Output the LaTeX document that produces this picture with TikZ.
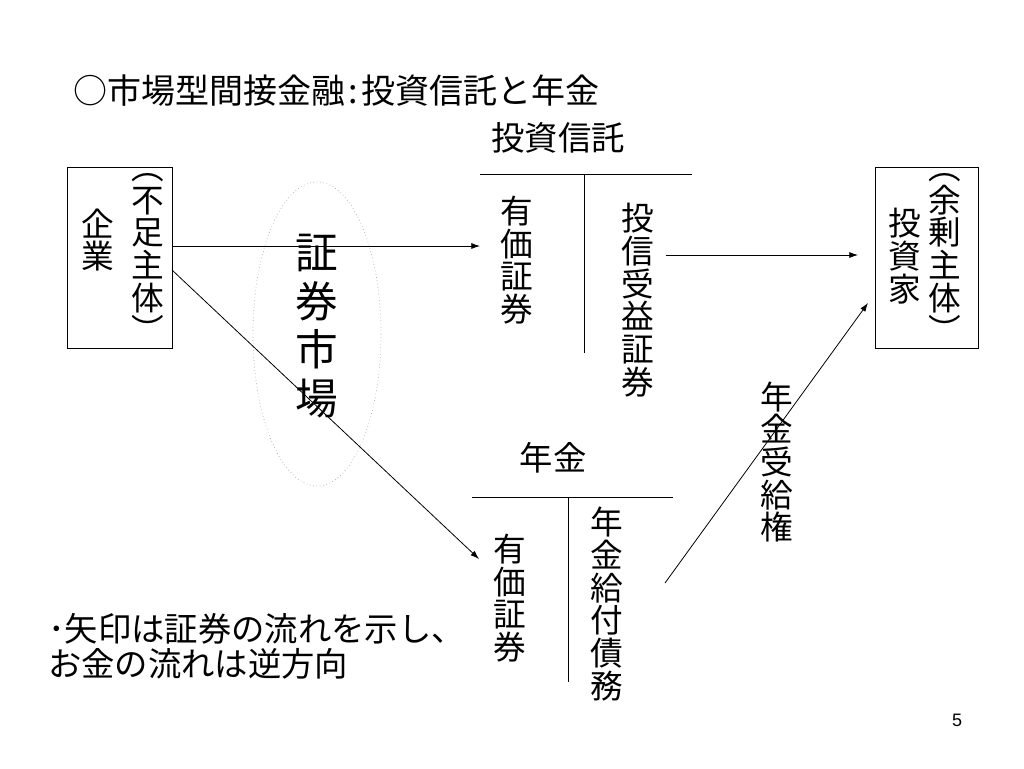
\documentclass[tikz,border=0pt]{standalone}
\usepackage{fontspec}
\setmainfont{Liberation Sans}
\newfontfamily\jp{Noto Sans CJK JP}
\usetikzlibrary{arrows.meta}
\tikzset{
  vtext/.style={align=center, inner sep=0pt, font=\jp\fontsize{24.5}{24.5}\selectfont},
  bigtext/.style={align=center, inner sep=0pt, font=\jp\fontsize{32}{36.5}\selectfont},
  htext/.style={inner sep=0pt, font=\jp\fontsize{25}{30}\selectfont},
  boxnode/.style={draw, line width=0.6pt, inner sep=0pt},
  arr/.style={-{Latex[length=6.5pt,width=4.5pt]}, line width=0.6pt},
  tline/.style={line width=0.6pt},
  mkt/.style={draw=gray!70, dotted, line width=0.5pt}
}
\begin{document}
\begin{tikzpicture}[x=0.75pt,y=-0.75pt]
\useasboundingbox (0,0) rectangle (1024,768);

% title
\node[htext, anchor=west, font=\jp\fontsize{25.5}{30}\selectfont] (title) at (73,91) {○市場型間接金融\kern0.1em:\kern0.1em 投資信託と年金};

% left box
\node[boxnode, minimum width=78.75pt, minimum height=135.75pt] (lbox) at (119.5,257.5) {};
\node[vtext] (fusoku) at (148,258) {︵\\不\\足\\主\\体\\︶};
\node[vtext] (kigyo) at (98,240) {企\\業};

% right box
\node[boxnode, minimum width=77.25pt, minimum height=135.75pt] (rbox) at (926.5,257.5) {};
\node[vtext] (yojo) at (945,258) {︵\\余\\剰\\主\\体\\︶};
\node[vtext] (toshika) at (905,256) {投\\資\\家};

% market ellipse
\draw[mkt] (317,334) ellipse [x radius=64, y radius=152];
\node[bigtext] (market) at (317,326) {証\\券\\市\\場};

% investment trust T-account
\node[htext] (ithead) at (558,138) {投資信託};
\coordinate (itL) at (480,174);
\coordinate (itR) at (692,174);
\coordinate (itT) at (584,174);
\coordinate (itB) at (584,353);
\draw[tline] (itL) -- (itR);
\draw[tline] (itT) -- (itB);
\node[vtext] (itasset) at (517,260) {有\\価\\証\\券};
\node[vtext] (itliab) at (638,300) {投\\信\\受\\益\\証\\券};

% pension T-account
\node[htext] (pnhead) at (553,458) {年金};
\coordinate (pnL) at (472,497);
\coordinate (pnR) at (673,497);
\coordinate (pnT) at (568,497);
\coordinate (pnB) at (568,682);
\draw[tline] (pnL) -- (pnR);
\draw[tline] (pnT) -- (pnB);
\node[vtext] (pnasset) at (510,598) {有\\価\\証\\券};
\node[vtext] (pnliab) at (607,604) {年\\金\\給\\付\\債\\務};

\node[vtext] (pnright) at (777,462) {年\\金\\受\\給\\権};

% arrows
\coordinate (a1s) at (172,246);
\coordinate (a1e) at (480,246);
\coordinate (a2s) at (172,270);
\coordinate (a2e) at (479,559);
\coordinate (a3s) at (666,255);
\coordinate (a3e) at (858,255);
\coordinate (a4s) at (665,583);
\coordinate (a4e) at (868,303);
\draw[arr] (a1s) -- (a1e);
\draw[arr] (a2s) -- (a2e);
\draw[arr] (a3s) -- (a3e);
\draw[arr] (a4s) -- (a4e);

% note
\node[inner sep=0pt, align=left, anchor=west, font=\jp\fontsize{25}{26.5}\selectfont] (note) at (48,646) {･矢印は証券の流れを示し、\\お金の流れは逆方向};

% page number
\node[inner sep=0pt, font=\fontsize{13.5}{16}\selectfont] (pg) at (957,720) {5};
\end{tikzpicture}
\end{document}
